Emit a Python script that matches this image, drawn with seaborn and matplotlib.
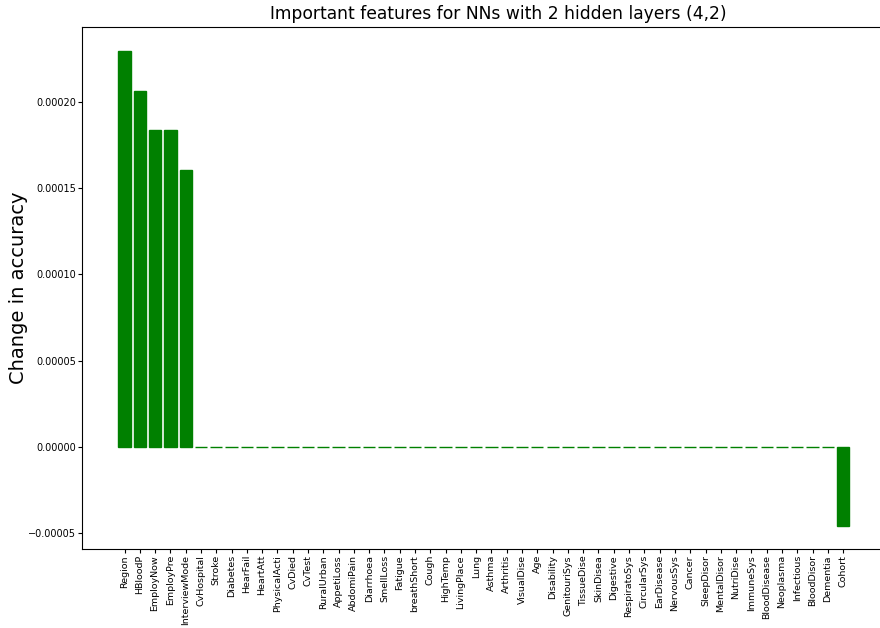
import matplotlib
matplotlib.use("Agg")
import matplotlib.pyplot as plt
import seaborn as sns
import pandas as pd

features = ["Region", "HBloodP", "EmployNow", "EmployPre", "InterviewMode", "CvHospital",
            "Stroke", "Diabetes", "HearFail", "HeartAtt", "PhysicalActi", "CvDied", "CvTest",
            "RuralUrban", "AppetiLoss", "AbdomiPain", "Diarrhoea", "SmellLoss", "Fatigue",
            "breathShort", "Cough", "HighTemp", "LivingPlace", "Lung", "Asthma", "Arthritis",
            "VisualDise", "Age", "Disability", "GenitouriSys", "TissueDise", "SkinDisea",
            "Digestive", "RespiratoSys", "CircularSys", "EarDisease", "NervousSys", "Cancer",
            "SleepDisor", "MentalDisor", "NutriDise", "ImmuneSys", "BloodDisease", "Neoplasma",
            "Infectious", "BloodDisor", "Dementia", "Cohort"]
top_values = [0.0002296, 0.0002064, 0.0001838, 0.0001838, 0.0001606]
last_value = [-0.0000458]
values = top_values + [0.0] * (len(features) - len(top_values) - 1) + last_value

df = pd.DataFrame({"feature": features, "change": values})

fig = plt.figure(figsize=(8.8, 6.28), dpi=100)
# the original figure is cut on the right, so the axes runs past the edge
ax = fig.add_axes([0.0932, 0.126, 0.9455, 0.831])

sns.barplot(data=df, x="feature", y="change", color="green", saturation=1,
            width=0.8, edgecolor="green", linewidth=1, ax=ax)

ax.set_xlim(-2.78, len(features) - 1 + 4.64)
ax.set_ylim(-0.0000591, 0.0002435)
ax.set_title("Important features for NNs with 2 hidden layers (4,2)", fontsize=12.3)
ax.set_ylabel("Change in accuracy", fontsize=14)
ax.yaxis.set_label_coords(-0.065, 0.5)
ax.set_xlabel("")
ax.tick_params(axis="x", labelrotation=90, labelsize=6.8, length=3, pad=1.5)
ax.tick_params(axis="y", labelsize=7, length=3, pad=1.5)

fig.savefig("out.png", dpi=100)
